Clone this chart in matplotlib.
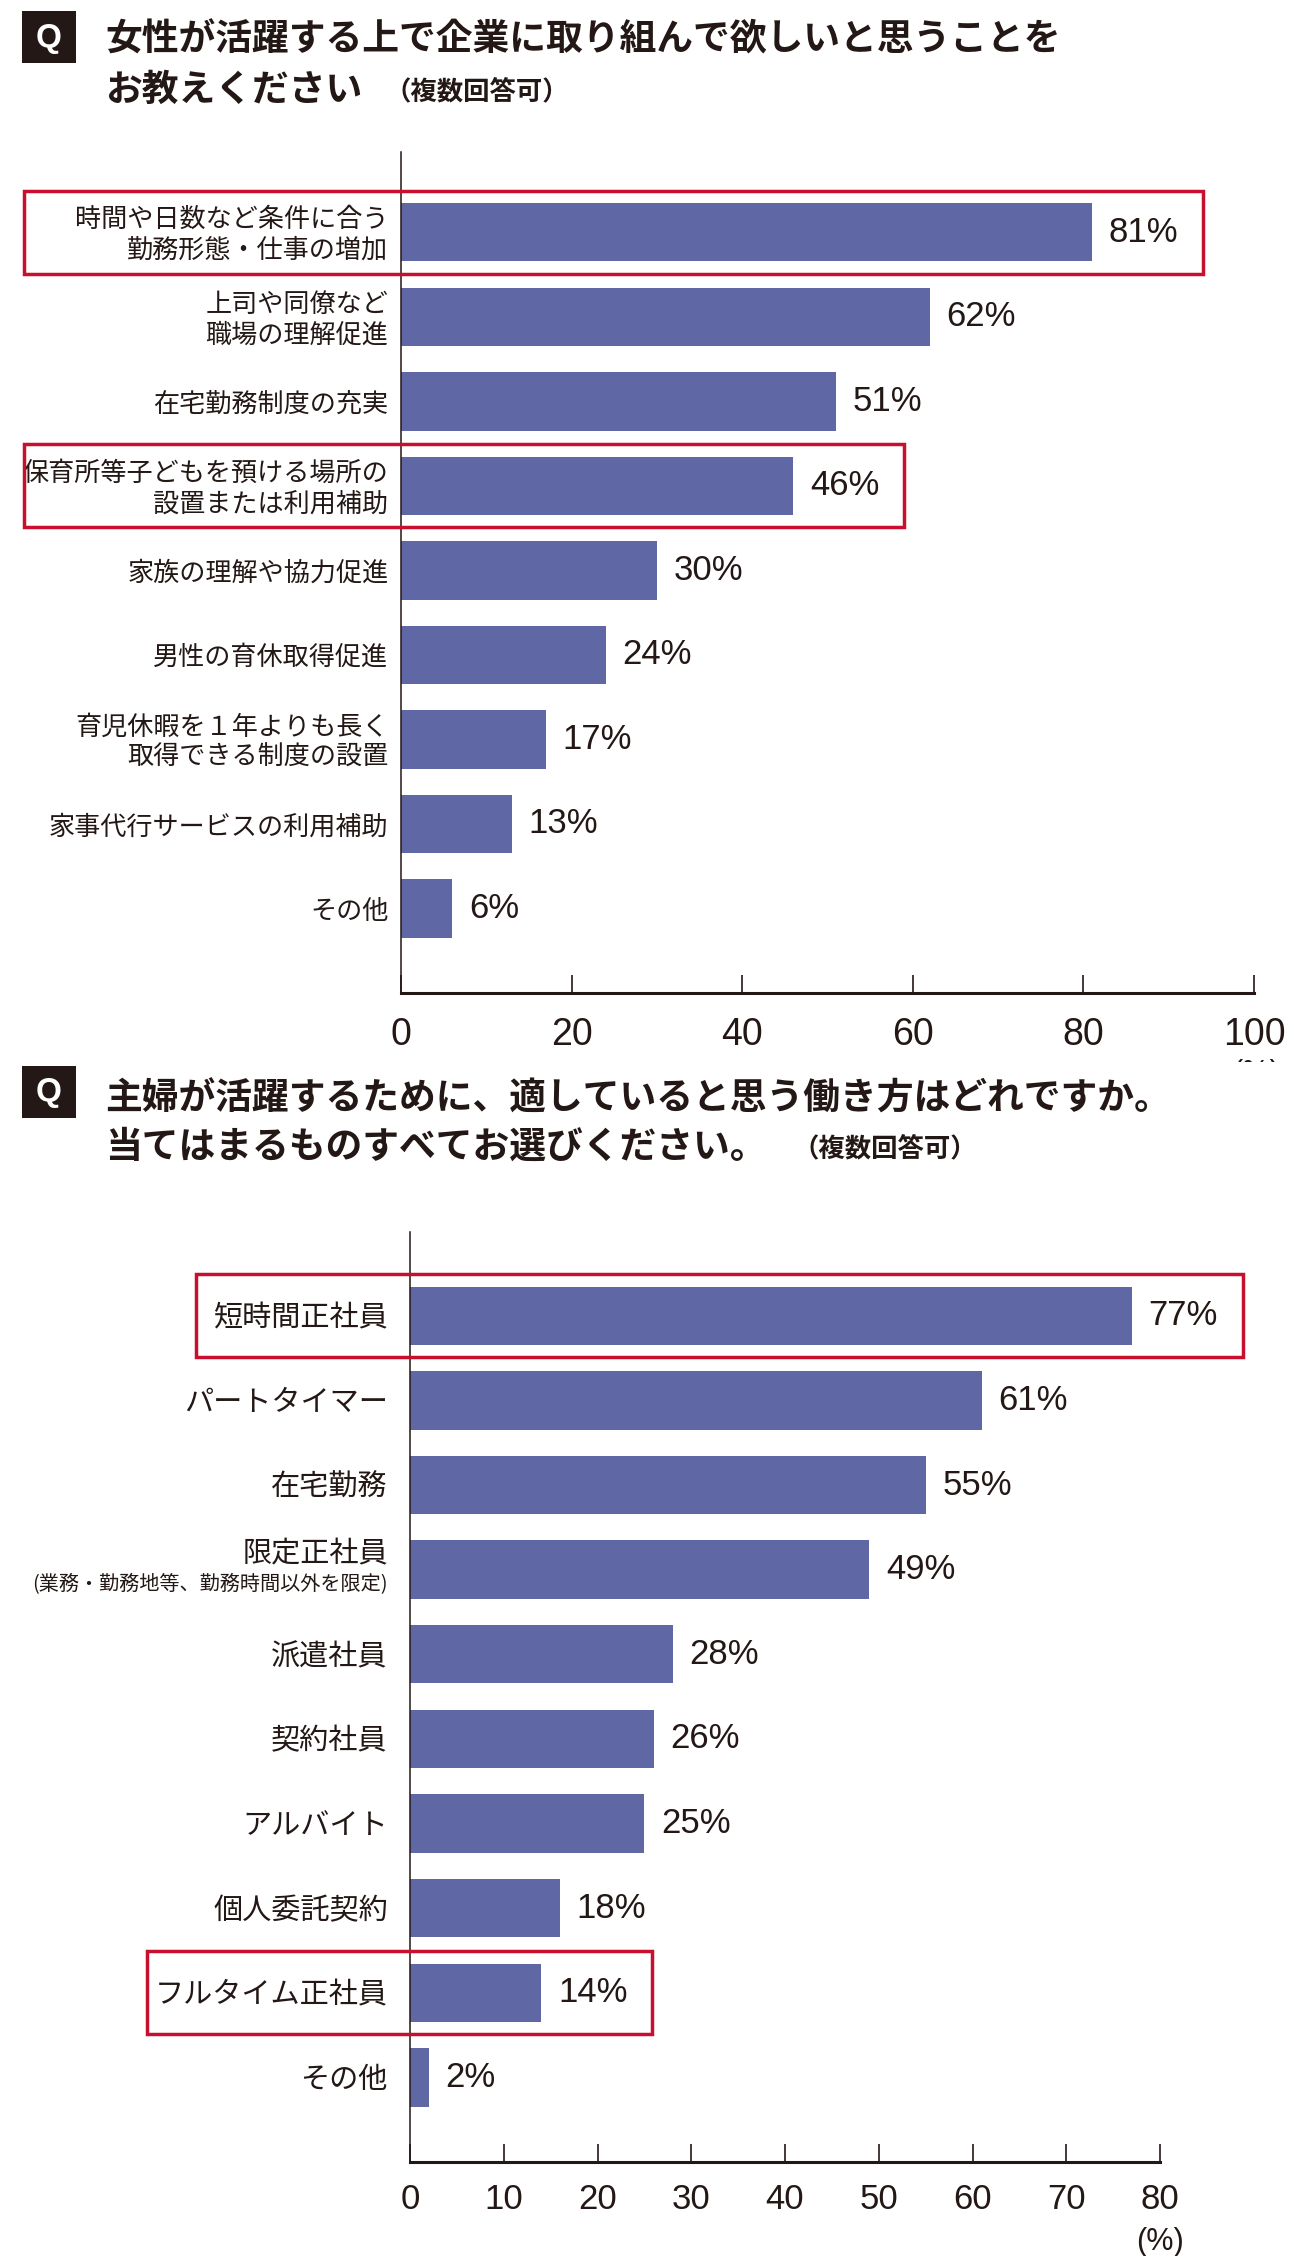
import matplotlib.pyplot as plt
from matplotlib.patches import Rectangle
from matplotlib.transforms import Bbox, TransformedBbox

W, H = 1315, 2256
JP = ["Noto Sans CJK JP", "DejaVu Sans"]
NUM = ["Liberation Sans", "DejaVu Sans"]
NARROW = ["Liberation Sans Narrow", "Liberation Sans", "DejaVu Sans"]
BAR_COLOR = "#5f67a5"
RED = "#c8102e"
INK = "#231815"

# --- data ---------------------------------------------------------------
q1_title = ["女性が活躍する上で企業に取り組んで欲しいと思うことを", "お教えください"]
q1_categories = [
    "時間や日数など条件に合う\n勤務形態・仕事の増加",
    "上司や同僚など\n職場の理解促進",
    "在宅勤務制度の充実",
    "保育所等子どもを預ける場所の\n設置または利用補助",
    "家族の理解や協力促進",
    "男性の育休取得促進",
    "育児休暇を１年よりも長く\n取得できる制度の設置",
    "家事代行サービスの利用補助",
    "その他",
]
q1_values = [81, 62, 51, 46, 30, 24, 17, 13, 6]
q1_bars = [81, 62, 51, 46, 30, 24, 17, 13, 6]
q1_ticks = [0, 20, 40, 60, 80, 100]
q1_highlight = [0, 3]

q2_title = ["主婦が活躍するために、適していると思う働き方はどれですか。",
            "当てはまるものすべてお選びください。"]
q2_categories = [
    "短時間正社員",
    "パートタイマー",
    "在宅勤務",
    "限定正社員",
    "派遣社員",
    "契約社員",
    "アルバイト",
    "個人委託契約",
    "フルタイム正社員",
    "その他",
]
q2_notes = {3: "(業務・勤務地等、勤務時間以外を限定)"}
q2_values = [77, 61, 55, 49, 28, 26, 25, 18, 14, 2]
# drawn bar lengths as printed (the 18% bar is drawn shorter in the source)
q2_bars = [77, 61, 55, 49, 28, 26, 25, 16, 14, 2]
q2_ticks = [0, 10, 20, 30, 40, 50, 60, 70, 80]
q2_highlight = [0, 8]
multi_note = "（複数回答可）"


def fx(px):
    return px / W


def fy(py):
    return 1 - py / H


def add_axes_px(fig, left, top, right, bottom):
    return fig.add_axes([fx(left), fy(bottom), (right - left) / W, (bottom - top) / H])


def draw_question(fig, box_top, lines, line_y, note_x):
    fig.add_artist(Rectangle((fx(22), fy(box_top + 52)), 54 / W, 52 / H,
                             transform=fig.transFigure, color=INK, lw=0))
    fig.text(fx(49), fy(box_top + 27), "Q", color="white", fontsize=24,
             fontweight="bold", family=NUM, ha="center", va="center")
    for text, y in zip(lines, line_y):
        fig.text(fx(105), fy(y), text, fontsize=26.5, fontweight="bold",
                 family=JP, ha="left", va="center", color=INK)
    fig.text(fx(note_x), fy(line_y[1] + 2), multi_note, fontsize=19,
             fontweight="bold", family=JP, ha="left", va="center", color=INK)


def draw_chart(ax, categories, values, bars, ticks, ylim, label_gap, label_size,
               tick_size, tick_pad, notes=None, note_gap=0):
    n = len(categories)
    pos = list(range(n))
    ax.barh(pos, bars, height=0.69, color=BAR_COLOR, zorder=2)
    ax.set_xlim(ticks[0], ticks[-1])
    ax.set_ylim(*ylim)

    for side in ["top", "right"]:
        ax.spines[side].set_visible(False)
    ax.spines["left"].set_linewidth(1.1)
    ax.spines["bottom"].set_linewidth(2.2)
    ax.spines["left"].set_color(INK)
    ax.spines["bottom"].set_color(INK)

    ax.set_yticks([])
    ax.set_xticks(ticks)
    ax.set_xticklabels([str(t) for t in ticks], family=NARROW, fontsize=tick_size,
                       color=INK)
    ax.tick_params(axis="x", direction="in", length=13, width=1.2, pad=tick_pad,
                   color=INK)

    notes = notes or {}
    for i, (cat, val, bar) in enumerate(zip(categories, values, bars)):
        if i in notes:
            ax.annotate(cat, xy=(0, i), xycoords=("axes fraction", "data"),
                        xytext=(-label_gap, 11), textcoords="offset points",
                        ha="right", va="center", family=JP, fontsize=label_size,
                        color=INK)
            ax.annotate(notes[i], xy=(0, i), xycoords=("axes fraction", "data"),
                        xytext=(-note_gap, -11), textcoords="offset points",
                        ha="right", va="center", family=JP, fontsize=14.5,
                        color=INK)
        else:
            ax.annotate(cat, xy=(0, i), xycoords=("axes fraction", "data"),
                        xytext=(-label_gap, -2), textcoords="offset points",
                        ha="right", va="center", family=JP, fontsize=label_size,
                        color=INK, linespacing=1.18)
        ax.annotate(f"{val}%", xy=(bar, i), xytext=(12, 0), textcoords="offset points",
                    ha="left", va="center", family=NUM, fontsize=25, color=INK)


def draw_highlight(ax, ax_left_px, px_per_unit, idx, value, left_px):
    x0 = (left_px - ax_left_px) / px_per_unit
    x1 = value + 111 / px_per_unit
    rect = Rectangle((x0, idx - 0.49), x1 - x0, 0.98, fill=False, edgecolor=RED,
                     lw=2.5, clip_on=False, zorder=5)
    ax.add_patch(rect)


fig = plt.figure(figsize=(W / 100, H / 100), dpi=100)
fig.patch.set_facecolor("white")

# --- chart 1 ---------------------------------------------------------------
draw_question(fig, 11, q1_title, [40, 90], 384)
ax1_box = (401, 152, 1254, 993)
ax1 = add_axes_px(fig, *ax1_box)
draw_chart(ax1, q1_categories, q1_values, q1_bars, q1_ticks, (9.0, -0.95),
           label_gap=9, label_size=18.8, tick_size=27, tick_pad=17)
ppu1 = (ax1_box[2] - ax1_box[0]) / (q1_ticks[-1] - q1_ticks[0])
for idx, left in zip(q1_highlight, [24, 24]):
    draw_highlight(ax1, ax1_box[0], ppu1, idx, q1_bars[idx], left)

pct1 = fig.text(fx(1256), fy(1074), "(%)", family=NARROW, fontsize=22,
                ha="center", va="center", color=INK)
pct1.set_clip_box(TransformedBbox(Bbox([[0, fy(1062)], [1, 1]]), fig.transFigure))
pct1.set_clip_on(True)

# --- chart 2 ---------------------------------------------------------------
draw_question(fig, 1066, q2_title, [1099, 1147], 793)
ax2_box = (410, 1232, 1160, 2162)
ax2 = add_axes_px(fig, *ax2_box)
draw_chart(ax2, q2_categories, q2_values, q2_bars, q2_ticks, (10.0, -0.99),
           label_gap=16, label_size=21, tick_size=25, tick_pad=15,
           notes=q2_notes, note_gap=16)
ppu2 = (ax2_box[2] - ax2_box[0]) / (q2_ticks[-1] - q2_ticks[0])
for idx, left in zip(q2_highlight, [196, 147]):
    draw_highlight(ax2, ax2_box[0], ppu2, idx, q2_bars[idx], left)

fig.text(fx(1160), fy(2242), "(%)", family=NARROW, fontsize=22,
         ha="center", va="center", color=INK)

fig.savefig("out.png", dpi=100, facecolor="white")
